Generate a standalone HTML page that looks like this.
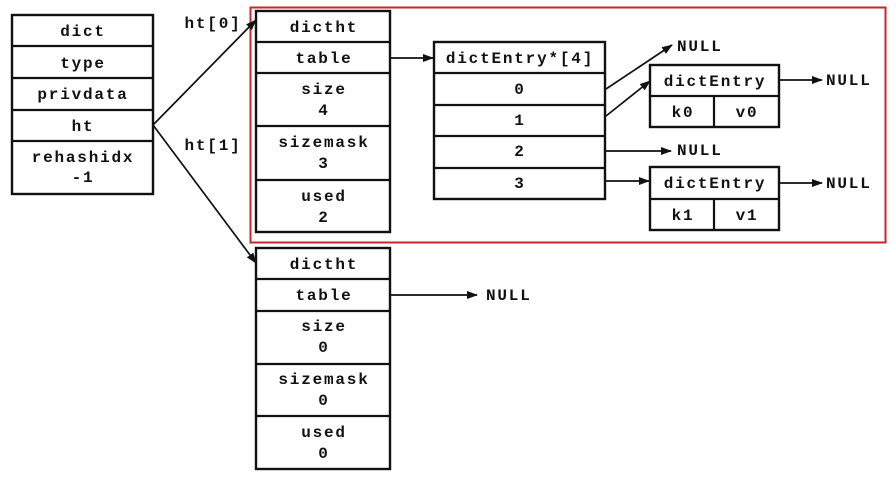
<!DOCTYPE html>
<html><head><meta charset="utf-8"><style>
body{margin:0;background:#fff}
svg{display:block}
text{font-family:"Liberation Mono",monospace;font-weight:bold;font-size:16px;letter-spacing:1.8px;fill:#111;text-anchor:middle}
.b{fill:#fff;stroke:#111;stroke-width:2.4}
.l{stroke:#111;stroke-width:1.7;fill:none}
.n{text-anchor:start}
</style></head><body>
<svg width="896" height="484" viewBox="0 0 896 484">
<defs><marker id="a" markerWidth="11" markerHeight="8" refX="10" refY="4" orient="auto" markerUnits="userSpaceOnUse"><path d="M0,0L11,4L0,8z" fill="#111"/></marker></defs>
<rect x="250.5" y="7.5" width="635" height="235" fill="none" stroke="#c8262e" stroke-width="2"/>
<!-- dict -->
<rect class="b" x="12" y="15" width="141" height="179"/>
<path class="l" d="M12 46H153M12 78H153M12 110H153M12 141H153" style="stroke-width:2.2"/>
<text x="83" y="36">dict</text><text x="83" y="68">type</text><text x="83" y="99">privdata</text><text x="83" y="131">ht</text>
<text x="83" y="162">rehashidx</text><text x="83" y="182">-1</text>
<text x="213" y="28">ht[0]</text><text x="213" y="150">ht[1]</text>
<path class="l" d="M153 125L256 20" marker-end="url(#a)"/>
<path class="l" d="M153 125L256 263" marker-end="url(#a)"/>
<!-- dictht 0 -->
<rect class="b" x="256" y="11" width="134" height="221"/>
<path class="l" d="M256 42H390M256 73H390M256 126H390M256 180H390" style="stroke-width:2.2"/>
<text x="324" y="32">dictht</text><text x="324" y="63">table</text>
<text x="324" y="94">size</text><text x="324" y="115">4</text>
<text x="324" y="147">sizemask</text><text x="324" y="168">3</text>
<text x="324" y="201">used</text><text x="324" y="222">2</text>
<path class="l" d="M390 58L433 58" marker-end="url(#a)"/>
<!-- table -->
<rect class="b" x="434" y="42" width="171" height="157"/>
<path class="l" d="M434 73H605M434 105H605M434 136H605M434 168H605" style="stroke-width:2.2"/>
<text x="520" y="63">dictEntry*[4]</text><text x="520" y="94">0</text><text x="520" y="125">1</text>
<text x="520" y="156">2</text><text x="520" y="188">3</text>
<path class="l" d="M606 89L672 45" marker-end="url(#a)"/>
<path class="l" d="M606 116L650 81" marker-end="url(#a)"/>
<path class="l" d="M606 151L671 151" marker-end="url(#a)"/>
<path class="l" d="M606 181L649 181" marker-end="url(#a)"/>
<text class="n" x="677" y="51">NULL</text><text class="n" x="677" y="155">NULL</text>
<!-- entries -->
<rect class="b" x="650" y="65" width="129" height="62"/>
<path class="l" d="M650 96H779M714 96V127" style="stroke-width:2.2"/>
<text x="715" y="86">dictEntry</text><text x="683" y="117">k0</text><text x="747" y="117">v0</text>
<rect class="b" x="650" y="167" width="129" height="63"/>
<path class="l" d="M650 199H779M714 199V230" style="stroke-width:2.2"/>
<text x="715" y="188">dictEntry</text><text x="683" y="220">k1</text><text x="747" y="220">v1</text>
<path class="l" d="M780 80L822 80" marker-end="url(#a)"/>
<path class="l" d="M780 183L822 183" marker-end="url(#a)"/>
<text class="n" x="826" y="85">NULL</text><text class="n" x="826" y="188">NULL</text>
<!-- dictht 1 -->
<rect class="b" x="256" y="248" width="134" height="221"/>
<path class="l" d="M256 279H390M256 311H390M256 364H390M256 416H390" style="stroke-width:2.2"/>
<text x="324" y="269">dictht</text><text x="324" y="300">table</text>
<text x="324" y="331">size</text><text x="324" y="352">0</text>
<text x="324" y="384">sizemask</text><text x="324" y="405">0</text>
<text x="324" y="437">used</text><text x="324" y="458">0</text>
<path class="l" d="M391 295L477 295" marker-end="url(#a)"/>
<text class="n" x="486" y="300">NULL</text>
</svg>
</body></html>
